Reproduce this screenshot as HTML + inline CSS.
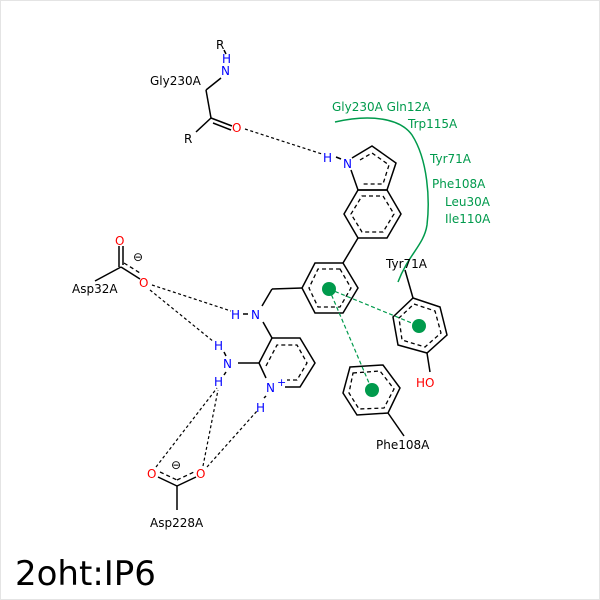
<!DOCTYPE html>
<html><head><style>
html,body{margin:0;padding:0;background:#fff}
svg{display:block}
text{font-family:"DejaVu Sans","Liberation Sans",sans-serif;font-size:12px}
.b{stroke:#000;stroke-width:1.5;fill:none}
.d{stroke:#000;stroke-width:1.3;fill:none;stroke-dasharray:4,3}
.hb{stroke:#000;stroke-width:1.2;fill:none;stroke-dasharray:3,2.5}
.g{stroke:#009a4c;stroke-width:1.2;fill:none;stroke-dasharray:4,2.5}
.k{fill:#000}.bl{fill:#0000ff}.r{fill:#ff0000}.gr{fill:#009a4c}
</style></head><body>
<svg width="600" height="600" viewBox="0 0 600 600" xmlns="http://www.w3.org/2000/svg">
<rect x="0.5" y="0.5" width="599" height="599" fill="#fff" stroke="#e4e4e4"/>
<path d="M335,122 C370,114 400,118 412,135 C428,160 430,200 427,225 C424,245 408,255 398,282" stroke="#009a4c" stroke-width="1.5" fill="none"/>
<g class="gr">
<text x="332" y="111">Gly230A Gln12A</text>
<text x="408" y="128">Trp115A</text>
<text x="430" y="163">Tyr71A</text>
<text x="432" y="188">Phe108A</text>
<text x="445" y="206">Leu30A</text>
<text x="445" y="223">Ile110A</text>
</g>
<line class="b" x1="224" y1="50" x2="226" y2="54"/>
<line class="b" x1="221" y1="78" x2="206" y2="90"/>
<line class="b" x1="206" y1="90" x2="211" y2="118"/>
<line class="b" x1="211" y1="118" x2="232" y2="126"/>
<line class="b" x1="213" y1="123" x2="231" y2="130"/>
<line class="b" x1="211" y1="118" x2="196" y2="132"/>
<text x="216" y="49" class="k">R</text>
<text x="222" y="63" class="bl">H</text>
<text x="221" y="75" class="bl">N</text>
<text x="150" y="85" class="k">Gly230A</text>
<text x="232" y="132" class="r">O</text>
<text x="184" y="143" class="k">R</text>
<line class="hb" x1="245" y1="129" x2="322" y2="154"/>
<text x="323" y="162" class="bl">H</text>
<line class="b" x1="336" y1="157" x2="341" y2="159"/>
<text x="343" y="168" class="bl">N</text>
<polyline class="b" points="352,158 372,146 396,163 387,190 358,190 351,170"/>
<polyline class="d" points="360,160 372,153 389,165 383,184 362,184"/>
<polygon class="b" points="358,190 387,190 401,214 387,238 358,238 344,214"/>
<polygon class="d" points="362,196 383,196 394,214 383,232 362,232 351,214"/>
<line class="b" x1="358" y1="238" x2="343" y2="263"/>
<polygon class="b" points="343,263 358,288 343,313 315,313 302,288 315,263"/>
<polygon class="d" points="340,269 351,288 340,307 318,307 309,288 318,269"/>
<line class="b" x1="302" y1="288" x2="272" y2="289"/>
<line class="b" x1="272" y1="289" x2="262" y2="306"/>
<text x="251" y="319" class="bl">N</text>
<line class="b" x1="243" y1="314" x2="248" y2="314"/>
<text x="231" y="319" class="bl">H</text>
<line class="b" x1="263" y1="322" x2="272" y2="338"/>
<polyline class="b" points="266,378 259,363 272,338 300,338 315,363 300,387 285,387"/>
<polyline class="d" points="266,366 277,345 297,345 307,363 297,380 287,380"/>
<text x="266" y="392" class="bl">N</text>
<text x="277" y="386" class="bl" style="font-size:11px">+</text>
<line class="b" x1="259" y1="363" x2="238" y2="363"/>
<text x="223" y="368" class="bl">N</text>
<text x="214" y="350" class="bl">H</text>
<text x="214" y="386" class="bl">H</text>
<line class="b" x1="224" y1="352" x2="226" y2="356"/>
<line class="b" x1="224" y1="375" x2="226" y2="372"/>
<text x="256" y="412" class="bl">H</text>
<line class="b" x1="264" y1="398" x2="266" y2="396"/>
<line class="b" x1="119" y1="246" x2="119" y2="267"/>
<line class="b" x1="123" y1="246" x2="123" y2="265"/>
<line class="b" x1="121" y1="267" x2="140" y2="279"/>
<line class="d" x1="124" y1="263" x2="140" y2="273"/>
<line class="b" x1="121" y1="267" x2="95" y2="281"/>
<text x="115" y="245" class="r">O</text>
<text x="139" y="287" class="r">O</text>
<text x="133" y="261" class="k">⊖</text>
<text x="72" y="293" class="k">Asp32A</text>
<line class="hb" x1="152" y1="285" x2="231" y2="311"/>
<line class="hb" x1="150" y1="290" x2="214" y2="342"/>
<line class="b" x1="158" y1="477" x2="177" y2="486"/>
<line class="d" x1="160" y1="472" x2="177" y2="480"/>
<line class="b" x1="177" y1="486" x2="196" y2="477"/>
<line class="d" x1="177" y1="480" x2="194" y2="472"/>
<line class="b" x1="177" y1="486" x2="177" y2="510"/>
<text x="147" y="478" class="r">O</text>
<text x="196" y="478" class="r">O</text>
<text x="171" y="469" class="k">⊖</text>
<text x="150" y="527" class="k">Asp228A</text>
<line class="hb" x1="156" y1="467" x2="217" y2="388"/>
<line class="hb" x1="203" y1="466" x2="218" y2="390"/>
<line class="hb" x1="207" y1="467" x2="257" y2="411"/>
<polygon class="b" points="413,298 440,307 447,335 427,353 398,345 393,317"/>
<polygon class="d" points="414,304 435,311 441,333 425,347 402,340 399,318"/>
<line class="b" x1="413" y1="298" x2="405" y2="270"/>
<text x="386" y="268" class="k">Tyr71A</text>
<line class="b" x1="427" y1="353" x2="430" y2="372"/>
<text x="416" y="387" class="r">HO</text>
<polygon class="b" points="350,367 383,365 400,388 388,413 357,415 343,393"/>
<polygon class="d" points="353,373 380,371 394,389 384,408 359,409 349,393"/>
<line class="b" x1="388" y1="413" x2="404" y2="436"/>
<text x="376" y="449" class="k">Phe108A</text>
<line class="g" x1="329" y1="289" x2="419" y2="326"/>
<line class="g" x1="329" y1="289" x2="372" y2="390"/>
<circle cx="329" cy="289" r="7" fill="#009a4c"/>
<circle cx="419" cy="326" r="7" fill="#009a4c"/>
<circle cx="372" cy="390" r="7" fill="#009a4c"/>
<text x="15" y="585" style="font-size:34px" class="k">2oht:IP6</text>
</svg>
</body></html>
